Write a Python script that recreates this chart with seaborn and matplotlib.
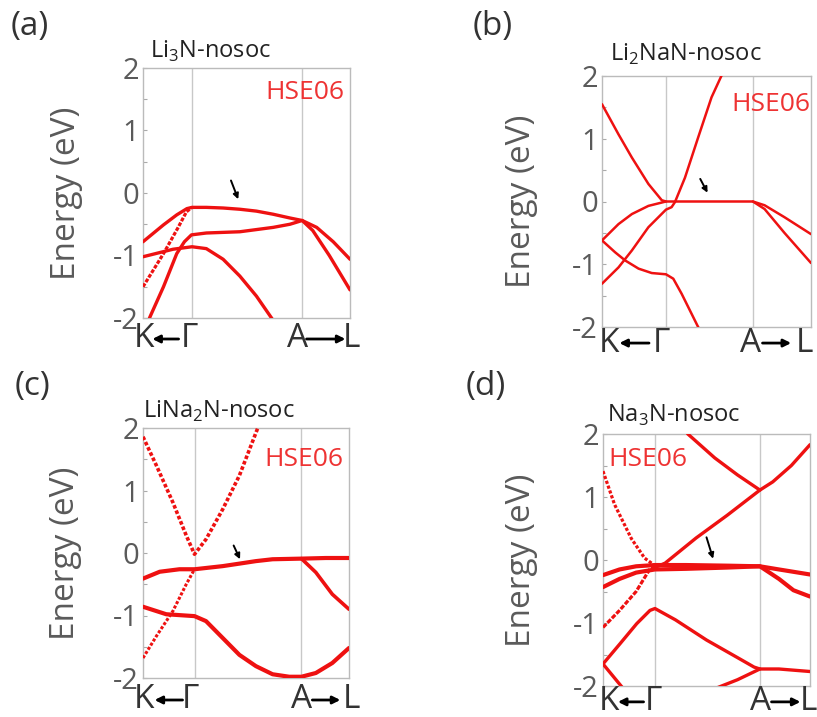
import matplotlib
matplotlib.use("Agg")
import matplotlib.pyplot as plt
import seaborn as sns

# band structure points: (path position 0..1, energy eV)
# path ticks per panel: K, Gamma, A, L
ticks_a = [0.0, 0.237, 0.769, 1.0]
ticks_b = [0.0, 0.306, 0.722, 1.0]
ticks_c = [0.0, 0.25, 0.769, 1.0]
ticks_d = [0.0, 0.251, 0.758, 1.0]

# (a) Li3N
a_top = [(0, -0.78), (0.099, -0.51), (0.163, -0.35), (0.212, -0.25), (0.237, -0.23), (0.306, -0.23),
         (0.387, -0.24), (0.468, -0.26), (0.548, -0.29), (0.629, -0.34), (0.71, -0.40), (0.769, -0.44),
         (0.839, -0.55), (0.919, -0.78), (1.0, -1.06)]
a_steep = [(0, -1.5), (0.099, -0.97), (0.17, -0.55), (0.21, -0.3), (0.237, -0.23)]
a_mid = [(0.02, -2.1), (0.034, -1.98), (0.099, -1.5), (0.163, -0.97), (0.2, -0.78), (0.234, -0.67),
         (0.306, -0.64), (0.468, -0.62), (0.629, -0.55), (0.71, -0.5), (0.769, -0.44), (0.82, -0.6),
         (0.9, -1.0), (1.0, -1.55)]
a_low = [(0, -1.02), (0.145, -0.9), (0.237, -0.86), (0.306, -0.89), (0.387, -1.06), (0.468, -1.33),
         (0.548, -1.65), (0.621, -2.0), (0.66, -2.2)]

# (b) Li2NaN
b_c1 = [(0, 1.55), (0.079, 1.07), (0.143, 0.70), (0.222, 0.28), (0.286, 0.02), (0.306, 0.0), (0.5, 0.0),
        (0.722, 0.0), (0.778, -0.06), (0.873, -0.25), (1.0, -0.52)]
b_v1 = [(0, -0.62), (0.079, -0.36), (0.143, -0.2), (0.222, -0.07), (0.306, 0.0)]
b_v2 = [(0, -1.31), (0.079, -1.05), (0.143, -0.78), (0.222, -0.41), (0.306, -0.13), (0.333, -0.09),
        (0.349, -0.01), (0.397, 0.38), (0.46, 1.02), (0.524, 1.66), (0.571, 2.0), (0.6, 2.2)]
b_v3 = [(0, -0.62), (0.063, -0.81), (0.111, -0.94), (0.175, -1.07), (0.238, -1.14), (0.306, -1.16),
        (0.341, -1.23), (0.381, -1.47), (0.46, -2.0), (0.48, -2.1)]
b_al = [(0.722, 0.0), (0.778, -0.12), (0.873, -0.5), (1.0, -0.98)]

# (c) LiNa2N
c_cb = [(0, 1.86), (0.065, 1.4), (0.145, 0.81), (0.21, 0.28), (0.25, -0.02), (0.306, 0.22), (0.387, 0.7),
        (0.468, 1.24), (0.556, 1.99), (0.57, 2.1)]
c_dot = [(0, -1.68), (0.065, -1.33), (0.145, -0.93), (0.21, -0.5), (0.25, -0.26)]
c_flat = [(0, -0.41), (0.081, -0.3), (0.177, -0.26), (0.25, -0.26), (0.387, -0.21), (0.468, -0.17),
          (0.548, -0.13), (0.629, -0.1), (0.769, -0.09), (0.887, -0.08), (1.0, -0.08)]
c_al = [(0.769, -0.09), (0.839, -0.31), (0.919, -0.66), (1.0, -0.9)]
c_low = [(0, -0.86), (0.113, -0.98), (0.25, -1.01), (0.306, -1.09), (0.387, -1.36), (0.468, -1.63),
         (0.548, -1.81), (0.629, -1.94), (0.71, -1.98), (0.769, -1.98), (0.839, -1.92), (0.919, -1.76),
         (1.0, -1.52)]

# (d) Na3N
d_cb = [(0, 1.41), (0.056, 0.88), (0.137, 0.34), (0.201, 0.03), (0.251, -0.09)]
d_f1 = [(0, -0.24), (0.08, -0.15), (0.16, -0.1), (0.251, -0.08), (0.4, -0.08), (0.6, -0.09),
        (0.758, -0.1), (0.85, -0.15), (1.0, -0.23)]
d_f2 = [(0, -0.43), (0.08, -0.3), (0.16, -0.2), (0.251, -0.15), (0.4, -0.14), (0.6, -0.12),
        (0.758, -0.1), (0.85, -0.3), (0.92, -0.48), (1.0, -0.58)]
d_f3 = [(0, -1.07), (0.08, -0.8), (0.16, -0.5), (0.227, -0.14), (0.251, -0.12)]
d_lin = [(0.25, -0.12), (0.3, -0.05), (0.45, 0.35), (0.6, 0.71), (0.758, 1.11), (0.82, 1.24),
         (0.91, 1.5), (1.0, 1.83)]
d_top = [(0.39, 2.1), (0.41, 2.0), (0.54, 1.62), (0.65, 1.35), (0.758, 1.11)]
d_g = [(0, -1.65), (0.082, -1.33), (0.163, -1.01), (0.227, -0.8), (0.251, -0.77), (0.35, -0.95),
       (0.5, -1.27), (0.65, -1.55), (0.73, -1.7), (0.758, -1.73), (0.85, -1.73), (1.0, -1.77)]
d_k = [(0, -1.65), (0.1, -2.05)]
d_a = [(0.758, -1.73), (0.65, -1.9), (0.55, -2.03), (0.5, -2.08)]

# small arrows marking the flat band: (x_tail, e_tail, x_head, e_head)
arrow_a = (0.425, 0.20, 0.46, -0.10)
arrow_b = (0.47, 0.36, 0.505, 0.14)
arrow_c = (0.44, 0.12, 0.471, -0.10)
arrow_d = (0.50, 0.36, 0.532, 0.02)

titles = ["Li$_\\mathregular{3}$N-nosoc", "Li$_\\mathregular{2}$NaN-nosoc",
          "LiNa$_\\mathregular{2}$N-nosoc", "Na$_\\mathregular{3}$N-nosoc"]
letters = ["(a)", "(b)", "(c)", "(d)"]

sns.set_style("white")
plt.rcParams['font.family'] = ['Open Sans', 'DejaVu Sans']
plt.rcParams['mathtext.fontset'] = 'custom'
plt.rcParams['mathtext.rm'] = 'Open Sans'

RED = '#ee1111'
GRAY = '#5a5a5a'
W, H = 817, 717

fig = plt.figure(figsize=(W / 100, H / 100), dpi=100)


def add_ax(l, r, t, b):
    return fig.add_axes([l / W, 1 - b / H, (r - l) / W, (b - t) / H])


panels = [
    dict(box=(143, 350, 68, 318), ticks=ticks_a, arrow=arrow_a, ylx=-0.29,
         bands=[(a_top, '-', 2.4), (a_steep, (0, (1.2, 0.5)), 2.3), (a_mid, '-', 2.4), (a_low, '-', 2.4)],
         hse=(0.975, 0.9, 'right'), lab=(11, 27), ttl=(150, 51),
         xl=[0.007, 0.222, 0.749, 1.005], arr=[(0.172, 0.045), (0.79, 0.978)], xly=-0.084),
    dict(box=(602, 811, 76, 327), ticks=ticks_b, arrow=arrow_b, ylx=-0.306,
         bands=[(b_c1, '-', 1.8), (b_v1, '-', 1.8), (b_v2, '-', 1.8), (b_v3, '-', 1.8), (b_al, '-', 1.8)],
         hse=(0.995, 0.885, 'right'), lab=(473, 27), ttl=(610, 54),
         xl=[0.033, 0.282, 0.713, 0.967], arr=[(0.225, 0.083), (0.768, 0.905)], xly=-0.064),
    dict(box=(143, 349, 428, 678), ticks=ticks_c, arrow=arrow_c, ylx=-0.295,
         bands=[(c_cb, (0, (1.0, 0.6)), 2.6), (c_dot, (0, (1.0, 0.6)), 2.2), (c_flat, '-', 3.0),
                (c_al, '-', 2.6), (c_low, '-', 3.0)],
         hse=(0.975, 0.875, 'right'), lab=(15, 387), ttl=(143, 411),
         xl=[0.005, 0.228, 0.772, 1.01], arr=[(0.192, 0.056), (0.822, 0.958)], xly=-0.088),
    dict(box=(603, 810, 434, 686), ticks=ticks_d, arrow=arrow_d, ylx=-0.314,
         bands=[(d_cb, (0, (1.0, 0.6)), 2.3), (d_f1, '-', 3.0), (d_f2, '-', 3.0), (d_f3, (0, (1.5, 0.5)), 2.3),
                (d_lin, '-', 2.4), (d_top, '-', 2.4), (d_g, '-', 2.4), (d_k, '-', 2.4), (d_a, '-', 2.4)],
         hse=(0.025, 0.9, 'left'), lab=(466, 387), ttl=(607, 415),
         xl=[0.03, 0.243, 0.763, 0.995], arr=[(0.196, 0.072), (0.814, 0.954)], xly=-0.063),
]

for i, p in enumerate(panels):
    ax = add_ax(*p['box'])
    for pts, ls, lw in p['bands']:
        xs = [q[0] for q in pts]
        es = [q[1] for q in pts]
        sns.lineplot(x=xs, y=es, ax=ax, sort=False, estimator=None, color=RED,
                     linewidth=lw, linestyle=ls, zorder=3)
    for t in p['ticks'][1:3]:
        ax.axvline(t, color='#c8c8c8', lw=1.0, zorder=1)
    ax.set_xlim(0, 1)
    ax.set_ylim(-2, 2)
    ax.set_xticks([])
    ax.set_yticks([-2, -1, 0, 1, 2])
    ax.set_yticklabels(['-2', '-1', '0', '1', '2'])
    ax.set_yticks([-1.5, -0.5, 0.5, 1.5], minor=True)
    ax.tick_params(axis='y', which='both', direction='in', length=3, width=0.8,
                   color='#aaaaaa', labelsize=21, labelcolor=GRAY, pad=3, left=True)
    for s in ax.spines.values():
        s.set_color('#bbbbbb')
        s.set_linewidth(1.0)
    ax.set_ylabel('Energy (eV)', fontsize=24, color=GRAY)
    ax.yaxis.set_label_coords(p['ylx'], 0.5)

    hx, hy, ha = p['hse']
    ax.text(hx, hy, 'HSE06', transform=ax.transAxes, color='#ee3333', fontsize=19,
            ha=ha, va='center')

    xt, et, xh, eh = p['arrow']
    ax.annotate('', xy=(xh, eh), xytext=(xt, et),
                arrowprops=dict(arrowstyle='-|>', color='black', lw=1.4, mutation_scale=8,
                                shrinkA=0, shrinkB=0), zorder=5)

    for xpos, lbl in zip(p['xl'], ['K', 'Γ', 'A', 'L']):
        ax.text(xpos, p['xly'], lbl, transform=ax.transAxes, ha='center', va='center',
                fontsize=24, color='#333333', clip_on=False)
    (x0, x1), (x2, x3) = p['arr']
    for xa, xb in [(x0, x1), (x2, x3)]:
        ax.annotate('', xy=(xb, p['xly']), xytext=(xa, p['xly']), xycoords='axes fraction',
                    arrowprops=dict(arrowstyle='-|>', color='black', lw=2.0, mutation_scale=11,
                                    shrinkA=0, shrinkB=0))

    lx, ly = p['lab']
    fig.text(lx / W, 1 - ly / H, letters[i], fontsize=24, color='#333333', va='center', ha='left')
    tx, ty = p['ttl']
    fig.text(tx / W, 1 - ty / H, titles[i], fontsize=17, color='#222222', va='center', ha='left')

fig.savefig('out.png', dpi=100)
